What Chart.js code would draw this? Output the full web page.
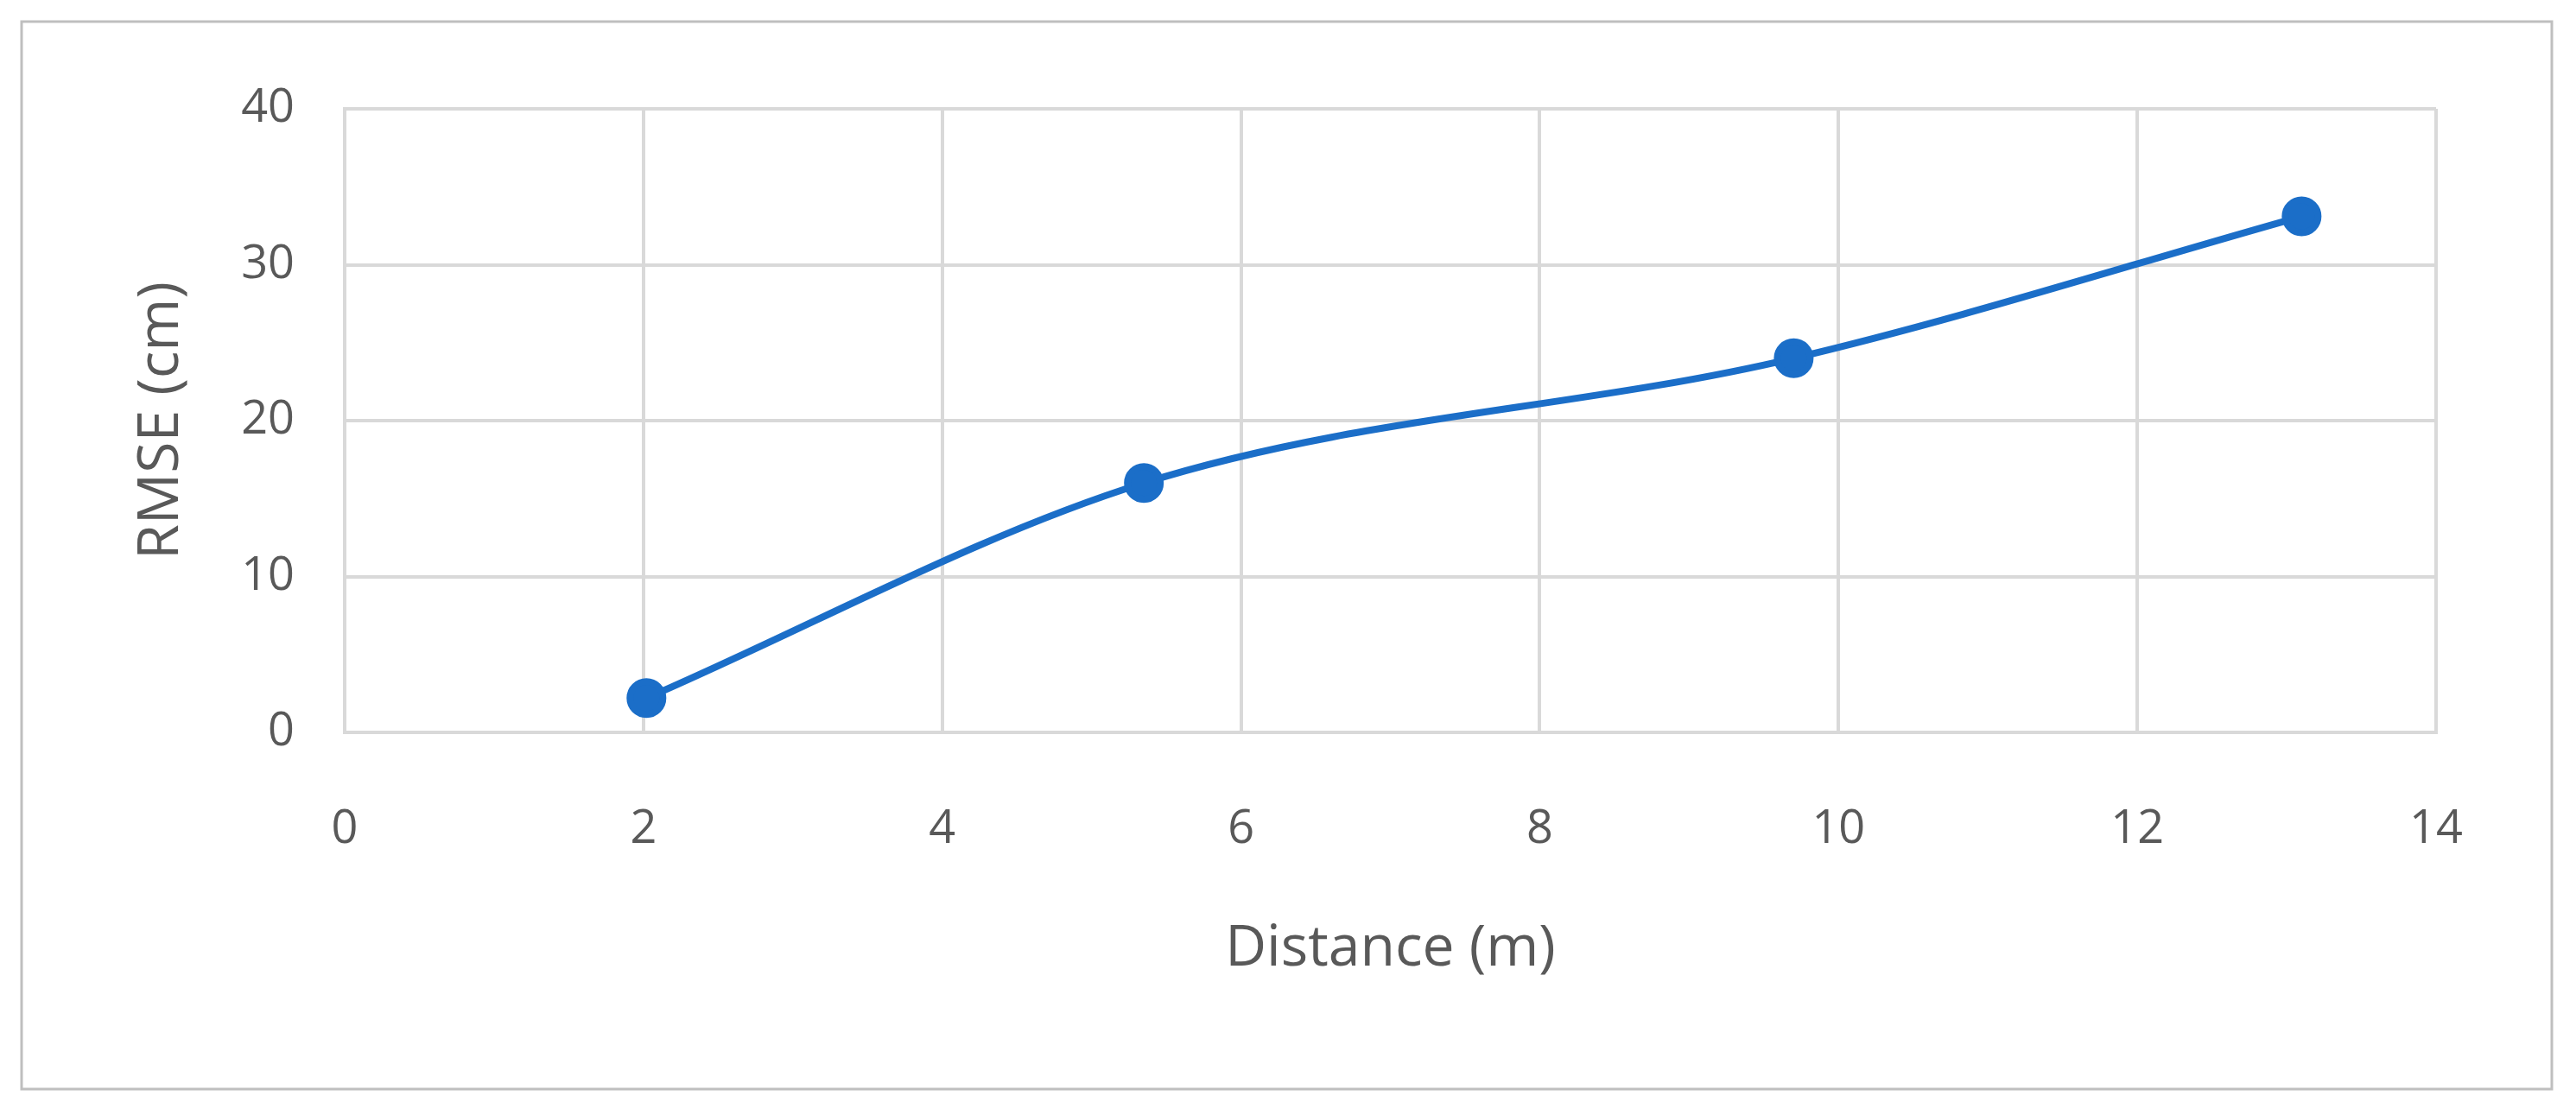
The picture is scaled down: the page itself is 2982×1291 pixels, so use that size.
<!DOCTYPE html>
<html><head><meta charset="utf-8">
<script src="https://cdn.jsdelivr.net/npm/chart.js@4/dist/chart.umd.min.js"></script>
<style>html,body{margin:0;padding:0;background:#fff;overflow:hidden}#w{width:2982px;height:1291px;position:relative}</style>
</head><body><div id="w"><canvas id="c"></canvas></div>
<script>
const distances = [2.02, 5.35, 9.7, 13.1];
const rmse = [2.2, 16, 24, 33.1];
const xTitle = "Distance (m)";
const yTitle = "RMSE (cm)";
const frame = {id:'frame', beforeDraw(ch){const c=ch.ctx;c.save();c.fillStyle='#fff';c.fillRect(0,0,ch.width,ch.height);c.strokeStyle='#bfbfbf';c.lineWidth=3;c.strokeRect(25,25,2929,1236);c.restore();}};
new Chart(document.getElementById('c'), {
  type:'scatter',
  data:{datasets:[{data:distances.map((x,i)=>({x:x,y:rmse[i]})),showLine:true,cubicInterpolationMode:'monotone',
    borderColor:'#1b6ec8',backgroundColor:'#1b6ec8',borderWidth:8,pointRadius:19,pointHoverRadius:19}]},
  options:{responsive:true,maintainAspectRatio:false,animation:false,devicePixelRatio:1,
    layout:{padding:{left:0,top:126,right:162,bottom:148}},
    plugins:{legend:{display:false},tooltip:{enabled:false}},
    scales:{
      x:{type:'linear',min:0,max:14,ticks:{stepSize:2,padding:80,color:'#595959',font:{family:'Open Sans',size:54}},
        grid:{color:'#d9d9d9',lineWidth:4,drawTicks:false},border:{color:'#d9d9d9',width:4},
        title:{display:true,text:xTitle,color:'#595959',font:{family:'Open Sans',size:66},padding:{top:40}},
        afterFit(s){s.height=295;}},
      y:{min:0,max:40,ticks:{stepSize:10,padding:58,color:'#595959',font:{family:'Open Sans',size:54}},
        grid:{color:'#d9d9d9',lineWidth:4,drawTicks:false},border:{color:'#d9d9d9',width:4},
        title:{display:true,text:yTitle,color:'#595959',font:{family:'Open Sans',size:66},padding:{top:148,bottom:0}},
        afterFit(s){s.width=399;}}
    }},
  plugins:[frame]
});
</script></body></html>
